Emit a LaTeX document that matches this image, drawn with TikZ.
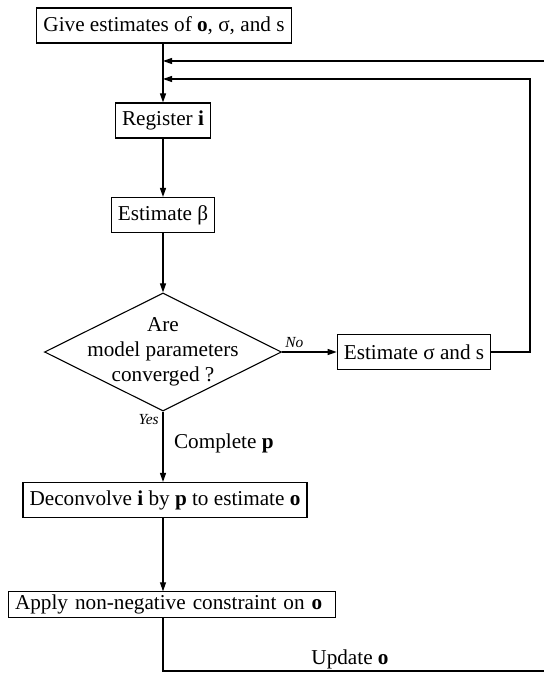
\documentclass[tikz,border=0pt]{standalone}
\usepackage{fontspec}
\setmainfont{Liberation Serif}
\usetikzlibrary{positioning}
\usetikzlibrary{shapes.geometric}
\usetikzlibrary{arrows.meta}

\begin{document}
\begin{tikzpicture}[
x=0.5pt, y=-0.5pt,
font=\fontsize{10.6}{12.5}\selectfont,
squarednode/.style={rectangle, draw=black, line width=0.55pt, minimum height=17.5pt, inner xsep=3.3pt},
rombnode/.style={diamond, draw=black, line width=0.55pt, minimum width=118.5pt, minimum height=59pt, inner sep=0pt},
labelnode/.style={font=\fontsize{7.7}{9}\selectfont\itshape, inner sep=1pt},
flow/.style={line width=0.55pt, -{Triangle[length=4.5pt, width=3pt]}},
]
\useasboundingbox (0,0) rectangle (543,673);

% First guess
\node[squarednode]      (give)        at (164,25.5)  {Give estimates of \textbf{o}, σ, and s};

% Parameter loop
\node[squarednode]      (register)    at (163,120.5) {Register \textbf{i}};
\node[squarednode]      (estbeta)     at (163,215)   {Estimate β};
\node[rombnode]         (converge)    at (163,352)   {};
\node[align=center]     (convergetext) at (163,352)  {Are\\model parameters\\converged ?};
\node[squarednode]      (estsigma)    at (414,352)   {Estimate σ and s};

% Branch labels
\node[labelnode, anchor=south west] (nolabel)   at (283,350) {No};
\node[labelnode, anchor=north east] (yeslabel)  at (161,412) {Yes};
\node[anchor=west]                  (completep) at (167,443) {Complete \textbf{p}};

% Object estimate
\node[squarednode]      (deconv)      at (165,500)   {Deconvolve \textbf{i} by \textbf{p} to estimate \textbf{o}};
\node[squarednode, text width=157pt, align=left, minimum height=12.5pt, inner ysep=1.5pt]
                        (apply)       at (172,604.5) {Apply non-negative constraint on \textbf{o}};
\node                   (updatelabel) at (350,659)   {Update \textbf{o}};

% Corners of the feedback lines
\coordinate (updatejoin)   at (163,61);
\coordinate (sigmajoin)    at (163,79);
\coordinate (sigmaright)   at (530,79);
\coordinate (updatecorner) at (163,671);
\coordinate (updateright)  at (547,671);
\coordinate (updatetop)    at (547,61);

\draw[flow] (give.south -| register) -- (register);
\draw[flow] (register) -- (estbeta);
\draw[flow] (estbeta) -- (converge);
\draw[flow] (converge) -- (estsigma);
\draw[flow] (estsigma) -| (sigmaright) -- (sigmajoin);
\draw[flow] (converge) -- (converge |- deconv.north);
\draw[flow] (converge |- deconv.south) -- (converge |- apply.north);
\draw[flow] (converge |- apply.south) -- (updatecorner) -- (updateright) -- (updatetop) -- (updatejoin);
\end{tikzpicture}
\end{document}
